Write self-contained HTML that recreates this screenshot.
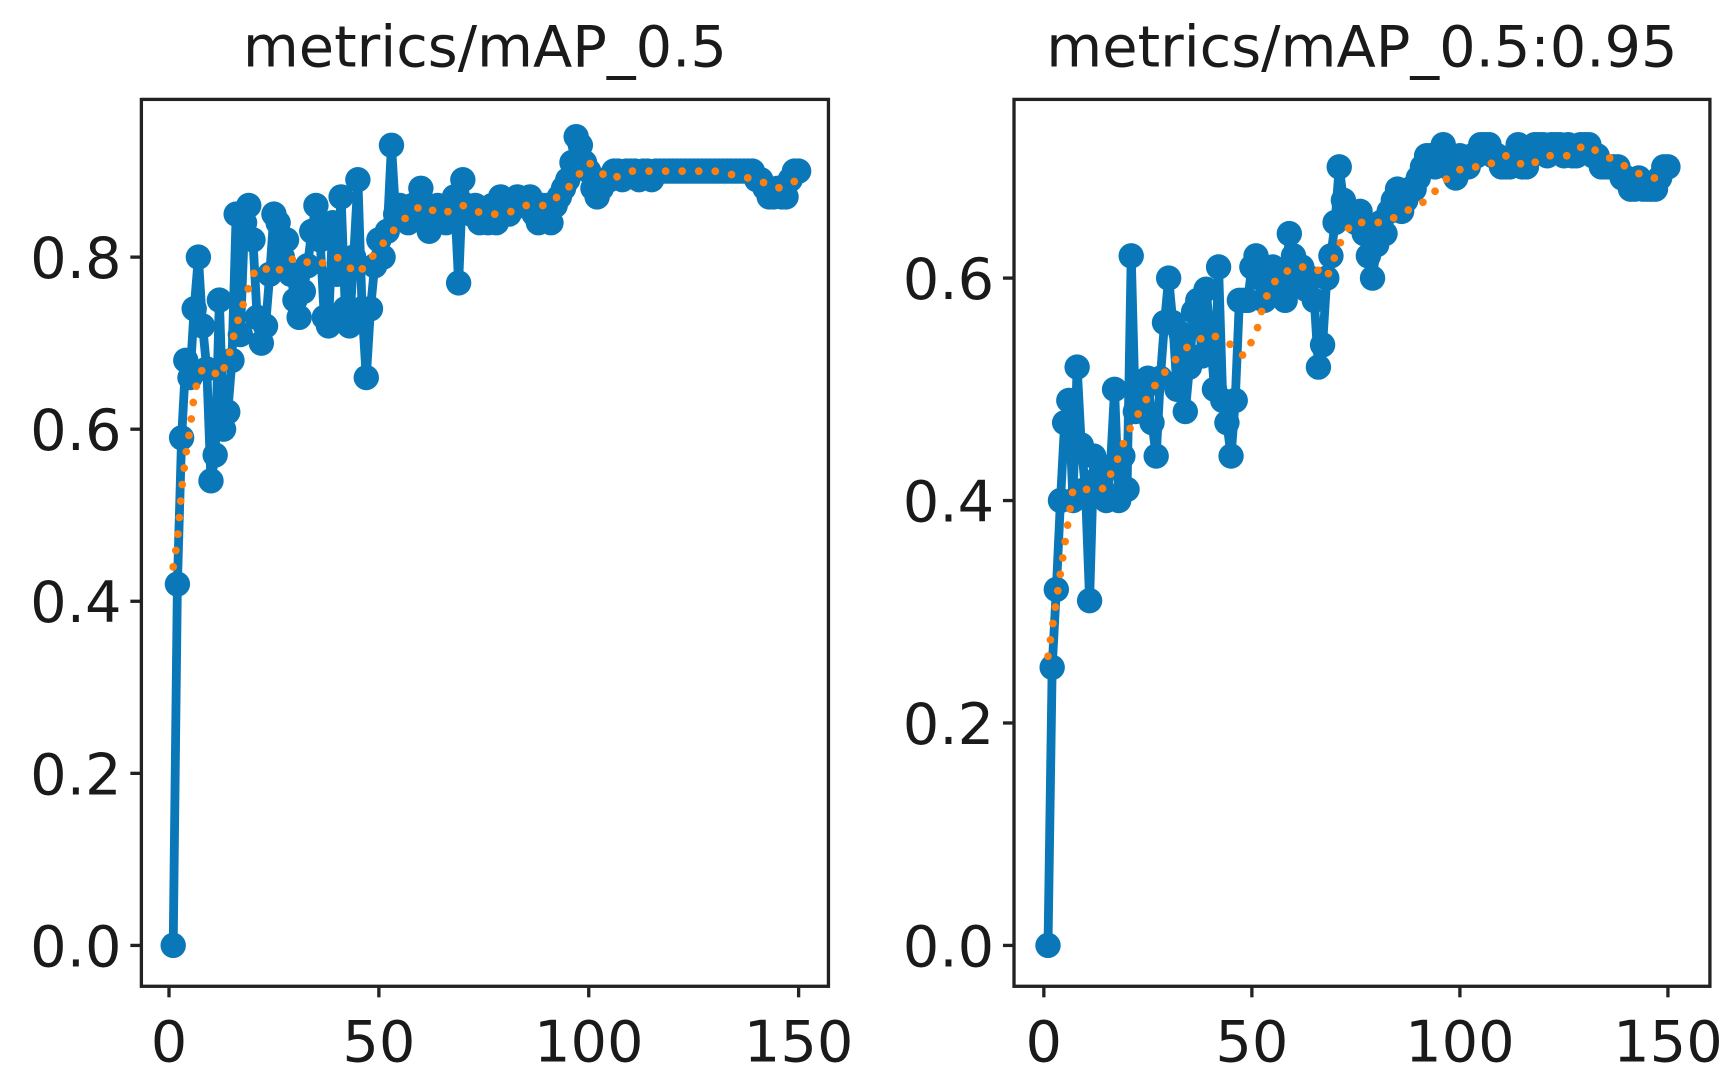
<!DOCTYPE html>
<html><head><meta charset="utf-8"><style>
html,body{margin:0;padding:0;background:#fff;}
svg{display:block;}
text{font-family:"DejaVu Sans","Liberation Sans",sans-serif;fill:#1a1a1a;}
</style></head><body>
<svg id="chart" width="1732" height="1089" viewBox="0 0 1568 986" preserveAspectRatio="none"></svg>
<script>
const epochs = Array.from({length:150},(_,i)=>i+1);
const map50 = [0,0.42,0.59,0.68,0.66,0.74,0.80,0.72,0.67,0.54,
0.57,0.75,0.60,0.62,0.68,0.85,0.71,0.84,0.86,0.82,
0.73,0.70,0.72,0.78,0.85,0.84,0.80,0.82,0.78,0.75,
0.73,0.76,0.79,0.83,0.86,0.82,0.73,0.72,0.84,0.78,
0.87,0.74,0.72,0.80,0.89,0.74,0.66,0.74,0.79,0.82,
0.80,0.83,0.93,0.85,0.86,0.85,0.84,0.86,0.85,0.88,
0.85,0.83,0.84,0.86,0.85,0.84,0.86,0.87,0.77,0.89,
0.86,0.85,0.86,0.84,0.85,0.84,0.86,0.84,0.87,0.86,
0.85,0.86,0.87,0.86,0.86,0.87,0.85,0.84,0.86,0.86,
0.84,0.86,0.87,0.88,0.89,0.91,0.94,0.93,0.91,0.90,
0.88,0.87,0.88,0.89,0.89,0.90,0.90,0.89,0.90,0.90,
0.90,0.89,0.90,0.90,0.89,0.90,0.90,0.90,0.90,0.90,
0.90,0.90,0.90,0.90,0.90,0.90,0.90,0.90,0.90,0.90,
0.90,0.90,0.90,0.90,0.90,0.90,0.90,0.90,0.90,0.89,
0.89,0.88,0.87,0.87,0.88,0.87,0.87,0.89,0.90,0.90];
const smoothEpochs50 = [1,2,3,4,5,6,7,8,10,12,14,16,18,20,22,25,30,35,40,45,50,55,60,65,70,75,80,85,90,95,100,105,110,115,120,130,140,145,150];
const smooth50 = [0.44,0.47,0.53,0.57,0.60,0.64,0.66,0.67,0.67,0.66,0.68,0.72,0.75,0.78,0.79,0.78,0.80,0.79,0.80,0.78,0.81,0.84,0.86,0.85,0.86,0.85,0.85,0.86,0.86,0.88,0.91,0.89,0.90,0.90,0.90,0.90,0.89,0.88,0.89];
const map5095 = [0,0.25,0.32,0.40,0.47,0.49,0.40,0.52,0.45,0.41,
0.31,0.44,0.42,0.41,0.40,0.43,0.50,0.40,0.44,0.41,
0.62,0.48,0.49,0.50,0.51,0.47,0.44,0.51,0.56,0.60,
0.56,0.50,0.55,0.48,0.52,0.57,0.58,0.53,0.59,0.55,
0.50,0.61,0.49,0.47,0.44,0.49,0.58,0.58,0.58,0.61,
0.62,0.60,0.58,0.59,0.61,0.60,0.59,0.58,0.64,0.62,
0.60,0.61,0.59,0.60,0.58,0.52,0.54,0.60,0.62,0.65,
0.70,0.67,0.66,0.66,0.65,0.66,0.64,0.62,0.60,0.63,
0.65,0.64,0.66,0.67,0.68,0.66,0.67,0.68,0.68,0.69,
0.70,0.71,0.71,0.70,0.71,0.72,0.70,0.70,0.69,0.71,
0.70,0.70,0.71,0.71,0.72,0.72,0.72,0.71,0.71,0.70,
0.70,0.70,0.71,0.72,0.70,0.70,0.71,0.72,0.72,0.72,
0.71,0.72,0.72,0.72,0.71,0.72,0.71,0.71,0.72,0.72,
0.72,0.71,0.71,0.70,0.70,0.70,0.70,0.70,0.69,0.69,
0.68,0.68,0.69,0.68,0.68,0.68,0.68,0.69,0.70,0.70];
const smoothEpochs5095 = [1,3,5,7,10,14,17,20,23,26,30,35,40,45,48,51,53,56,60,65,68,71,74,78,82,87,92,97,101,106,111,116,121,126,130,135,140,145,148];
const smooth5095 = [0.26,0.31,0.36,0.41,0.41,0.41,0.43,0.46,0.48,0.50,0.52,0.54,0.55,0.54,0.53,0.55,0.58,0.60,0.61,0.61,0.60,0.63,0.65,0.65,0.65,0.66,0.67,0.69,0.70,0.70,0.71,0.70,0.71,0.71,0.72,0.71,0.70,0.69,0.69];
const xTicks = [0,50,100,150];
const yTicks50 = [0.0,0.2,0.4,0.6,0.8];
const yTicks5095 = [0.0,0.2,0.4,0.6];

const NS='http://www.w3.org/2000/svg';
const svg=document.getElementById('chart');
function mk(tag,attrs,parent){const e=document.createElementNS(NS,tag);for(const k in attrs)e.setAttribute(k,attrs[k]);(parent||svg).appendChild(e);return e;}

function panel(name,box,title,xs,ys,sx,sy,yt){
  const g=mk('g',{});
  
  
  const xf=v=>box.x0+(v)*(box.x150-box.x0)/150;
  const yf=v=>box.y0-v*box.ypu;
  const t=mk('text',{x:(box.l+box.r)/2,y:60,'text-anchor':'middle','font-size':52},g);t.textContent=title;
  
  
  const pts=xs.map((e,i)=>xf(e)+','+yf(ys[i])).join(' ');
  const bl=mk('polyline',{points:pts,fill:'none',stroke:'#0a78b8','stroke-width':8,'stroke-linejoin':'round'},g);
  
  
  xs.forEach((e,i)=>{const c=mk('circle',{cx:xf(e),cy:yf(ys[i]),r:11.5,fill:'#0a78b8'},g);
    
    });
  const sp=sx.map((e,i)=>xf(e)+','+yf(sy[i])).join(' ');
  const sl=mk('polyline',{points:sp,fill:'none',stroke:'#ff7f0e','stroke-width':7,'stroke-linecap':'round','stroke-dasharray':'0 15'},g);
  
  
  const fr=mk('rect',{x:box.l,y:box.t,width:box.r-box.l,height:box.b-box.t,fill:'none',stroke:'#222','stroke-width':3},g);
  
  
  xTicks.forEach(v=>{const x=xf(v);mk('line',{x1:x,x2:x,y1:box.b,y2:box.b+10,stroke:'#222','stroke-width':3},g);
    const tx=mk('text',{x:x,y:box.b+68,'text-anchor':'middle','font-size':52},g);tx.textContent=v;
    
    });
  yt.forEach(v=>{const y=yf(v);mk('line',{x1:box.l-10,x2:box.l,y1:y,y2:y,stroke:'#222','stroke-width':3},g);
    const ty=mk('text',{x:box.l-18,y:y+19,'text-anchor':'end','font-size':52},g);ty.textContent=v.toFixed(1);
    
    });
}
panel('map50-panel',{l:128,r:750,t:90,b:893,x0:153,x150:723,y0:856,ypu:779},'metrics/mAP_0.5',epochs,map50,smoothEpochs50,smooth50,yTicks50);
panel('map5095-panel',{l:918,r:1548,t:90,b:893,x0:945,x150:1510,y0:856,ypu:1007},'metrics/mAP_0.5:0.95',epochs,map5095,smoothEpochs5095,smooth5095,yTicks5095);
</script>
</body></html>
